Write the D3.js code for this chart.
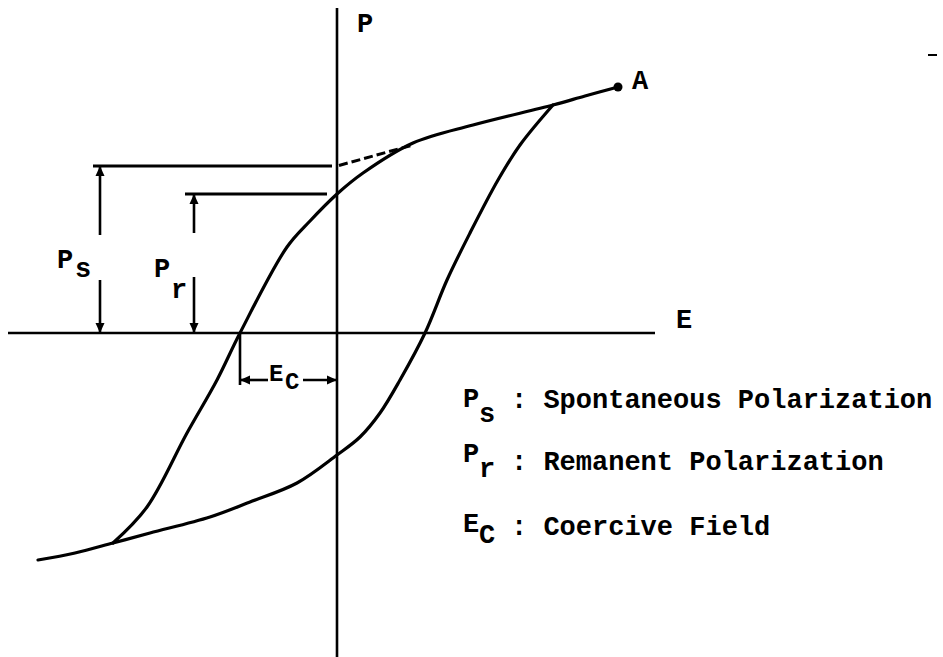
<!DOCTYPE html>
<html>
<head>
<meta charset="utf-8">
<script src="https://cdn.jsdelivr.net/npm/d3@7"></script>
<style>
  html, body { margin: 0; padding: 0; background: #fff; }
  svg { display: block; }
  text { font-family: "Liberation Mono", "DejaVu Sans Mono", monospace; font-weight: bold; fill: #000; }
</style>
</head>
<body>
<svg id="chart" width="943" height="657"></svg>
<script>
// Ferroelectric hysteresis loop, P (polarization) versus E (field), arbitrary units.

// Ascending branch: from the negative tip up the lower/right side of the loop
const ascendingE = [-2.99, -2.62, -2.24, -1.87, -1.27, -0.87, -0.40, 0.00, 0.23, 0.43, 0.63, 0.88, 1.10, 1.33, 1.61, 1.83, 2.16];
const ascendingP = [-2.27, -2.20, -2.10, -2.00, -1.84, -1.69, -1.50, -1.22, -1.04, -0.80, -0.47, 0.00, 0.53, 1.00, 1.53, 1.88, 2.28];

// Descending branch: from the saturation point A down the upper/left side
const descendingE = [2.81, 2.48, 2.16, 1.36, 0.76, 0.26, 0.00, -0.27, -0.50, -0.97, -1.20, -1.50, -1.90, -2.24];
const descendingP = [2.46, 2.37, 2.28, 2.08, 1.90, 1.60, 1.39, 1.12, 0.86, 0.00, -0.47, -1.00, -1.74, -2.10];

// Characteristic quantities
const Ps = 1.67;   // spontaneous polarization (linear saturation part extrapolated to E = 0)
const Pr = 1.39;   // remanent polarization (loop at E = 0)
const Ec = -0.97;  // coercive field (loop at P = 0)
const pointA = [2.81, 2.46];

// Axis extents
const eRange = [-3.29, 3.18];
const pRange = [-3.24, 3.25];

// Legend entries
const legendSymbols = ["P", "P", "E"];
const legendSubs = ["s", "r", "C"];
const legendTexts = [": Spontaneous Polarization", ": Remanent Polarization", ": Coercive Field"];

const svg = d3.select("#chart");
const x = d3.scaleLinear().domain([-3.37, 6.06]).range([0, 943]);
const y = d3.scaleLinear().domain([-3.24, 3.33]).range([657, 0]);

const defs = svg.append("defs");
defs.append("marker")
  .attr("id", "head")
  .attr("viewBox", "0 0 10 10")
  .attr("refX", 9).attr("refY", 5)
  .attr("markerWidth", 10).attr("markerHeight", 10)
  .attr("markerUnits", "userSpaceOnUse")
  .attr("orient", "auto")
  .append("path")
  .attr("d", "M0,0.5 L10,5 L0,9.5 Z")
  .attr("fill", "#000");

// Axes
const axes = svg.append("g").attr("stroke", "#000").attr("stroke-width", 2.6);
axes.append("line")
  .attr("x1", x(eRange[0])).attr("x2", x(eRange[1]))
  .attr("y1", y(0)).attr("y2", y(0));
axes.append("line")
  .attr("x1", x(0)).attr("x2", x(0))
  .attr("y1", y(pRange[1])).attr("y2", y(pRange[0]));

svg.append("text").attr("x", x(0) + 20).attr("y", y(pRange[1]) + 24).attr("font-size", 27).text("P");
svg.append("text").attr("x", x(eRange[1]) + 21).attr("y", y(0) - 5).attr("font-size", 27).text("E");

// Loop branches
const line = d3.line()
  .x(d => x(d[0])).y(d => y(d[1]))
  .curve(d3.curveCatmullRom.alpha(0.5));
const asc = ascendingE.map((e, i) => [e, ascendingP[i]]);
const desc = descendingE.map((e, i) => [e, descendingP[i]]);
const curves = svg.append("g").attr("fill", "none").attr("stroke", "#000")
  .attr("stroke-width", 3.2).attr("stroke-linecap", "round").attr("stroke-linejoin", "round");
curves.append("path").attr("d", line(asc));
curves.append("path").attr("d", line(desc));

// Extrapolation of the saturation line back to the P axis
const slope = (descendingP[0] - descendingP[2]) / (descendingE[0] - descendingE[2]);
const dashEnd = 0.76;
curves.append("line")
  .attr("x1", x(0.02)).attr("y1", y(Ps + slope * 0.02))
  .attr("x2", x(dashEnd)).attr("y2", y(Ps + slope * dashEnd))
  .attr("stroke-width", 3)
  .attr("stroke-dasharray", "9,4").attr("stroke-linecap", "butt");

// Point A
svg.append("circle").attr("cx", x(pointA[0])).attr("cy", y(pointA[1])).attr("r", 4.5).attr("fill", "#000");
svg.append("text").attr("x", x(pointA[0]) + 14).attr("y", y(pointA[1]) + 2).attr("font-size", 27).text("A");

// Ps and Pr dimension markers
const dims = svg.append("g").attr("stroke", "#000").attr("fill", "none");
function dimension(level, eLine0, eLine1, eArrow, gapTop, gapBottom) {
  dims.append("line").attr("stroke-width", 3)
    .attr("x1", x(eLine0)).attr("x2", x(eLine1))
    .attr("y1", y(level)).attr("y2", y(level));
  dims.append("line").attr("stroke-width", 2.6).attr("marker-end", "url(#head)")
    .attr("x1", x(eArrow)).attr("x2", x(eArrow))
    .attr("y1", y(gapTop)).attr("y2", y(level) + 1);
  dims.append("line").attr("stroke-width", 2.6).attr("marker-end", "url(#head)")
    .attr("x1", x(eArrow)).attr("x2", x(eArrow))
    .attr("y1", y(gapBottom)).attr("y2", y(0) - 1);
}
dimension(Ps, -2.44, -0.05, -2.37, 0.98, 0.53);
dimension(Pr, -1.52, -0.10, -1.43, 1.00, 0.56);

svg.append("text").attr("x", x(-2.37) - 43).attr("y", y(0.65)).attr("font-size", 27).text("P");
svg.append("text").attr("x", x(-2.37) - 25).attr("y", y(0.56)).attr("font-size", 27).text("s");
svg.append("text").attr("x", x(-1.43) - 40).attr("y", y(0.56)).attr("font-size", 27).text("P");
svg.append("text").attr("x", x(-1.43) - 23).attr("y", y(0.35)).attr("font-size", 27).text("r");

// Coercive field marker
const ecY = -0.47;
dims.append("line").attr("stroke-width", 2.6)
  .attr("x1", x(Ec)).attr("x2", x(Ec)).attr("y1", y(0)).attr("y2", y(-0.52));
dims.append("line").attr("stroke-width", 2.6).attr("marker-end", "url(#head)")
  .attr("x1", x(Ec) + 28).attr("x2", x(Ec) + 1).attr("y1", y(ecY)).attr("y2", y(ecY));
dims.append("line").attr("stroke-width", 2.6).attr("marker-end", "url(#head)")
  .attr("x1", x(0) - 34).attr("x2", x(0) - 1).attr("y1", y(ecY)).attr("y2", y(ecY));
svg.append("text").attr("x", x(Ec) + 29).attr("y", y(ecY) + 1).attr("font-size", 24).text("E");
svg.append("text").attr("x", x(Ec) + 45).attr("y", y(ecY) + 9).attr("font-size", 24).text("C");

// Legend
const legendX = 463;
const rows = [
  {sym: 407, sub: 422, txt: 408},
  {sym: 462, sub: 477, txt: 470},
  {sym: 532, sub: 543, txt: 535}
];
const legend = svg.append("g").attr("font-size", 27);
rows.forEach((r, i) => {
  legend.append("text").attr("x", legendX).attr("y", r.sym).text(legendSymbols[i]);
  legend.append("text").attr("x", legendX + 16).attr("y", r.sub).text(legendSubs[i]);
  legend.append("text").attr("x", legendX + 48).attr("y", r.txt).text(legendTexts[i]);
});

// Small stray mark at the upper right
svg.append("line").attr("stroke", "#000").attr("stroke-width", 2)
  .attr("x1", 928).attr("x2", 937).attr("y1", 55).attr("y2", 55);
</script>
</body>
</html>
